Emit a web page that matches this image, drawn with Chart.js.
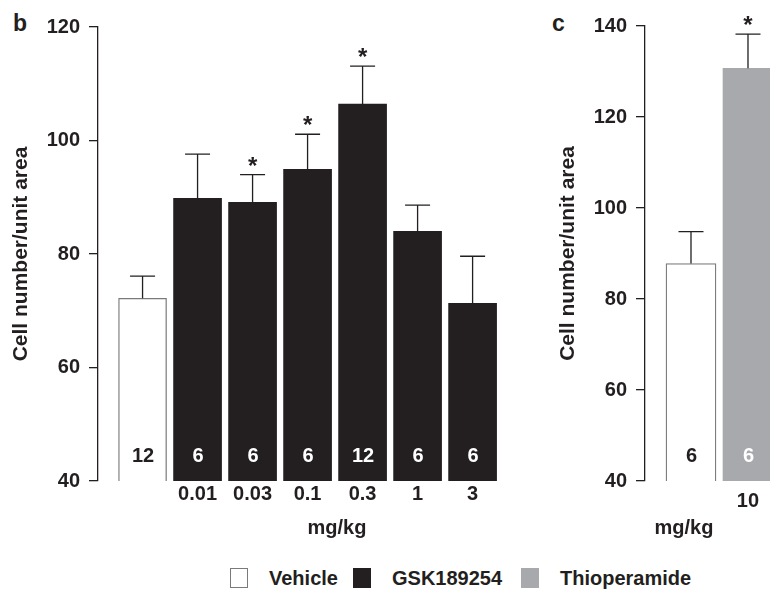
<!DOCTYPE html>
<html>
<head>
<meta charset="utf-8">
<script src="https://cdn.jsdelivr.net/npm/chart.js@4/dist/chart.umd.min.js"></script>
<style>
  html, body { margin: 0; padding: 0; background: #fff; }
  body {
    width: 770px; height: 589px; overflow: hidden; position: relative;
    font-family: "Liberation Sans", Arial, sans-serif; font-weight: bold; color: #231f20;
  }
  .panel { position: absolute; top: 0; height: 521px; }
  #wrapB { left: 0; width: 520px; }
  #wrapC { left: 540px; width: 260px; }
  .txt { position: absolute; white-space: nowrap; line-height: 1; }
  .letter { font-size: 23px; top: 12px; }
  .unit { font-size: 20px; top: 517px; transform: translateX(-50%); }
  .swatch { position: absolute; top: 568px; width: 18px; height: 20px; box-sizing: border-box; }
  .legtxt { position: absolute; top: 568px; font-size: 20px; line-height: 20px; white-space: nowrap; }
</style>
</head>
<body>
<div class="txt letter" style="left:13px">b</div>
<div class="txt letter" style="left:552px">c</div>
<div class="panel" id="wrapB"><canvas id="chartB"></canvas></div>
<div class="panel" id="wrapC"><canvas id="chartC"></canvas></div>
<div class="txt unit" style="left:337px">mg/kg</div>
<div class="txt unit" style="left:684px">mg/kg</div>
<div id="legend"></div>

<script>
const ink = '#231f20';
const grey = '#a7a9ac';

// panel b - GSK189254 dose response
const dosesB = ['', '0.01', '0.03', '0.1', '0.3', '1', '3'];
const meansB = [72.2, 89.8, 89.1, 94.9, 106.4, 84.0, 71.3];
const semB = [3.9, 7.8, 4.9, 6.2, 6.7, 4.6, 8.3];
const nB = [12, 6, 6, 6, 12, 6, 6];
const starB = [false, false, true, true, true, false, false];
const groupB = [0, 1, 1, 1, 1, 1, 1];
const ticksB = [40, 60, 80, 100, 120];

// panel c - thioperamide
const dosesC = ['', '10'];
const meansC = [87.8, 130.7];
const semC = [7.0, 7.5];
const nC = [6, 6];
const starC = [false, true];
const groupC = [0, 2];
const ticksC = [40, 60, 80, 100, 120, 140];

// legend groups
const groups = ['Vehicle', 'GSK189254', 'Thioperamide'];
const groupFill = ['#ffffff', ink, grey];
const groupEdge = ['#7a7a7a', ink, grey];
const groupLabel = [ink, '#ffffff', '#ffffff'];

Chart.defaults.color = ink;
Chart.defaults.font.family = '"Liberation Sans", Arial, sans-serif';
Chart.defaults.font.weight = 'bold';
Chart.defaults.font.size = 20;

// error whiskers (upper only), stars and n inside bars
function barExtras(sem, n, star, group) {
  return {
    id: 'barExtras',
    afterDatasetsDraw(chart) {
      const { ctx, scales: { y } } = chart;
      const meta = chart.getDatasetMeta(0);
      const data = chart.data.datasets[0].data;
      const base = y.getPixelForValue(y.min);
      ctx.save();
      meta.data.forEach((bar, i) => {
        const yErr = y.getPixelForValue(data[i].y + sem[i]);
        ctx.strokeStyle = ink;
        ctx.lineWidth = 1.3;
        ctx.beginPath();
        ctx.moveTo(bar.x, bar.y);
        ctx.lineTo(bar.x, yErr);
        ctx.moveTo(bar.x - 12.5, yErr);
        ctx.lineTo(bar.x + 12.5, yErr);
        ctx.stroke();

        ctx.textAlign = 'center';
        if (star[i]) {
          ctx.fillStyle = ink;
          ctx.font = 'bold 24px "Liberation Sans", Arial, sans-serif';
          ctx.textBaseline = 'alphabetic';
          ctx.fillText('*', bar.x, yErr - 1);
        }
        ctx.fillStyle = groupLabel[group[i]];
        ctx.font = 'bold 20px "Liberation Sans", Arial, sans-serif';
        ctx.textBaseline = 'middle';
        ctx.fillText(String(n[i]), bar.x + 0.5, base - 25);
      });
      ctx.restore();
    }
  };
}

function makePanel(id, doses, means, sem, n, star, group, yTicks, p) {
  const ctx = document.getElementById(id).getContext('2d');
  return new Chart(ctx, {
    type: 'bar',
    data: {
      datasets: [{
        data: means.map((v, i) => ({ x: i, y: v })),
        backgroundColor: group.map(g => groupFill[g]),
        borderColor: group.map(g => groupEdge[g]),
        borderWidth: group.map(g => g === 0 ? 1.3 : 0),
        borderSkipped: false,
        barThickness: p.barW
      }]
    },
    options: {
      responsive: true,
      maintainAspectRatio: false,
      animation: false,
      layout: { padding: { left: 0, right: p.padRight, top: p.top, bottom: 0 } },
      plugins: { legend: { display: false }, tooltip: { enabled: false } },
      scales: {
        x: {
          type: 'linear',
          offset: false,
          min: p.xMin,
          max: p.xMax,
          grid: { display: false, drawTicks: false, offset: false },
          border: { display: false },
          afterBuildTicks: s => { s.ticks = doses.map((d, i) => ({ value: i })); },
          afterFit: s => { s.height = 40; },
          ticks: {
            autoSkip: false,
            maxRotation: 0,
            padding: p.xPad,
            callback: v => doses[v] ?? ''
          }
        },
        y: {
          min: yTicks[0],
          max: yTicks[yTicks.length - 1],
          afterBuildTicks: s => { s.ticks = yTicks.map(v => ({ value: v })); },
          afterFit: s => { s.width = p.axisW; },
          grid: { drawOnChartArea: false, drawTicks: true, tickLength: 9, color: ink, lineWidth: 1.3 },
          border: { display: true, color: ink, width: 1.3 },
          ticks: { padding: 9 },
          title: {
            display: true,
            text: 'Cell number/unit area',
            font: { size: 21, weight: 'bold' },
            padding: { top: p.titlePad, bottom: 0 }
          }
        }
      }
    },
    plugins: [barExtras(sem, n, star, group)]
  });
}

makePanel('chartB', dosesB, meansB, semB, nB, starB, groupB, ticksB,
  { barW: 48, xMin: -0.81, xMax: 6.68, padRight: 10, top: 27, axisW: 98, xPad: 1, titlePad: 9 });
makePanel('chartC', dosesC, meansC, semC, nC, starC, groupC, ticksC,
  { barW: 50, xMin: -0.807, xMax: 1.737, padRight: 10, top: 26, axisW: 105, xPad: 8, titlePad: 16 });

// legend
const legendPos = [[230, 269], [353, 392], [521, 560]];
const legend = document.getElementById('legend');
groups.forEach((name, i) => {
  const sw = document.createElement('div');
  sw.className = 'swatch';
  sw.style.left = legendPos[i][0] + 'px';
  sw.style.background = groupFill[i];
  sw.style.border = i === 0 ? '1.3px solid #7a7a7a' : 'none';
  legend.appendChild(sw);
  const t = document.createElement('div');
  t.className = 'legtxt';
  t.style.left = legendPos[i][1] + 'px';
  t.textContent = name;
  legend.appendChild(t);
});
</script>
</body>
</html>
